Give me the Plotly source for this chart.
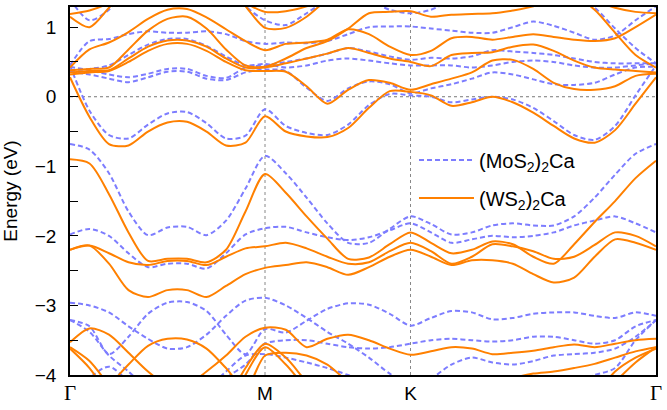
import numpy as np
import plotly.graph_objects as go

# ---------------- k-path ----------------
K_LABELS = ["<span style='font-family:Liberation Serif;font-size:21px'>Γ</span>", "M", "K",
            "<span style='font-family:Liberation Serif;font-size:21px'>Γ</span>"]
K_TICKS = [0.0, 1.97, 3.44, 5.92]
SEG_N = [11, 8, 13]
k = np.concatenate([
    np.linspace(K_TICKS[0], K_TICKS[1], SEG_N[0]),
    np.linspace(K_TICKS[1], K_TICKS[2], SEG_N[1])[1:],
    np.linspace(K_TICKS[2], K_TICKS[3], SEG_N[2])[1:],
])

# ---------------- (WS2)2Ca bands (eV) ----------------
WS_A = [0.28, -0.29, -0.68, -0.70, -0.50, -0.37, -0.36, -0.50, -0.70, -0.66, -0.28,
        -0.50, -0.57, -0.58, -0.45, -0.16, 0.08, 0.07,
        0.02, -0.13, -0.08, 0.00, -0.08, -0.23, -0.42, -0.60, -0.66, -0.48, -0.10, 0.28]
WS_B = [0.32, 0.35, 0.37, 0.50, 0.66, 0.76, 0.76, 0.66, 0.50, 0.38, 0.37,
        0.36, 0.15, -0.10, 0.10, 0.24, 0.20, 0.10,
        0.18, 0.26, 0.35, 0.52, 0.53, 0.40, 0.20, 0.11, 0.10, 0.15, 0.30, 0.33]
WS_C = [0.35, 0.37, 0.38, 0.55, 0.72, 0.81, 0.81, 0.72, 0.55, 0.42, 0.42,
        0.48, 0.55, 0.62, 0.70, 0.63, 0.55, 0.50,
        0.44, 0.60, 0.63, 0.64, 0.72, 0.75, 0.66, 0.52, 0.42, 0.39, 0.37, 0.35]
WS_D = [0.42, 0.68, 0.78, 0.93, 1.12, 1.25, 1.26, 1.14, 0.97, 0.80, 0.67,
        0.76, 0.78, 0.82, 0.97, 0.90, 0.72, 0.60,
        0.66, 0.84, 0.86, 0.82, 0.86, 0.90, 0.86, 0.82, 0.80, 0.84, 1.00, 1.18]
WS_E = [0.38, 0.40, 0.42, 0.68, 0.95, 1.12, 1.15, 0.98, 0.68, 0.45, 0.43,
        0.55, 0.70, 0.80, 0.98, 1.20, 1.22, 1.23,
        1.15, 1.18, 1.19, 1.20, 1.24, 1.30, 1.42, 1.45, 1.25, 0.92, 0.60, 0.42]
WS_F = [1.15, 1.00, 1.28, 1.60, 1.90, 2.00, 2.00, 1.90, 1.60, 1.30, 0.99,
        0.99, 1.15, 1.40, 1.60, 1.70, 1.75, 1.80,
        1.80, 1.80, 1.80, 1.80, 1.75, 1.70, 1.60, 1.50, 1.38, 1.28, 1.22, 1.20]
WS_G = [1.19, 1.24, 1.35, 1.55, 1.75, 1.85, 1.85, 1.75, 1.55, 1.35, 1.22,
        1.23, 1.30, 1.45, 1.55, 1.60, 1.60, 1.60,
        1.60, 1.60, 1.60, 1.60, 1.60, 1.60, 1.60, 1.60, 1.60, 1.60, 1.60, 1.60]
WS_H = [-0.90, -0.96, -1.40, -1.95, -2.36, -2.33, -2.33, -2.38, -2.20, -1.65, -1.11,
        -1.38, -1.72, -2.04, -2.33, -2.31, -2.12, -1.95,
        -2.10, -2.25, -2.20, -2.08, -2.12, -2.30, -2.40, -2.12, -1.80, -1.50, -1.17, -0.92]
WS_I = [-2.20, -2.14, -2.25, -2.38, -2.42, -2.36, -2.36, -2.42, -2.30, -2.18, -2.15,
        -2.10, -2.18, -2.30, -2.40, -2.38, -2.22, -2.10,
        -2.22, -2.40, -2.30, -2.12, -2.15, -2.22, -2.33, -2.30, -2.13, -1.95, -2.00, -2.15]
WS_J = [-2.20, -2.14, -2.40, -2.78, -2.88, -2.78, -2.78, -2.88, -2.72, -2.55, -2.46,
        -2.42, -2.38, -2.45, -2.56, -2.45, -2.30, -2.20,
        -2.30, -2.42, -2.35, -2.35, -2.40, -2.55, -2.67, -2.60, -2.30, -2.05, -2.10, -2.20]
WS_K = [-3.53, -3.33, -3.42, -3.68, -3.95, -4.15, -4.15, -3.95, -3.72, -3.45, -3.32,
        -3.35, -3.60, -3.48, -3.42, -3.50, -3.62, -3.71,
        -3.66, -3.60, -3.62, -3.70, -3.68, -3.65, -3.60, -3.56, -3.60, -3.55, -3.50, -3.48]
WS_L = [-4.60, -4.40, -4.15, -3.85, -3.58, -3.48, -3.49, -3.62, -3.90, -4.20, -3.72,
        -3.68, -3.72, -3.85, -4.10, -4.30, -4.40, -4.50,
        -4.50, -4.50, -4.40, -4.20, -4.05, -3.98, -3.95, -3.90, -3.84, -3.75, -3.66, -3.60]
WS_M = [-3.60, -3.80, -4.15, -4.50, -4.80, -4.90, -4.90, -4.80, -4.40, -3.90, -3.55,
        -3.75, -4.10, -4.40, -4.60, -4.70, -4.80, -4.80,
        -4.80, -4.80, -4.80, -4.80, -4.80, -4.80, -4.70, -4.60, -4.40, -4.10, -3.82, -3.60]
WS_N = [-3.62, -3.90, -4.30, -4.70, -4.90, -5.00, -5.00, -4.90, -4.60, -4.00, -3.60,
        -3.85, -4.20, -4.50, -4.70, -4.80, -4.80, -4.80,
        -4.80, -4.80, -4.80, -4.80, -4.80, -4.80, -4.70, -4.60, -4.30, -3.95, -3.75, -3.62]

# ---------------- (MoS2)2Ca bands (eV) ----------------
MO_A = [0.45, -0.20, -0.55, -0.60, -0.40, -0.24, -0.22, -0.38, -0.60, -0.56, -0.18,
        -0.42, -0.52, -0.55, -0.40, -0.12, 0.04, 0.02,
        0.00, -0.08, -0.04, 0.00, -0.04, -0.16, -0.35, -0.55, -0.62, -0.42, 0.02, 0.45]
MO_B = [0.36, 0.32, 0.26, 0.21, 0.28, 0.36, 0.36, 0.26, 0.24, 0.35, 0.39,
        0.37, 0.13, -0.06, 0.12, 0.22, 0.18, 0.05,
        0.12, 0.18, 0.26, 0.35, 0.32, 0.25, 0.18, 0.17, 0.20, 0.32, 0.42, 0.43]
MO_C = [0.43, 0.38, 0.32, 0.28, 0.33, 0.40, 0.40, 0.30, 0.27, 0.42, 0.45,
        0.50, 0.55, 0.62, 0.70, 0.65, 0.58, 0.53,
        0.56, 0.55, 0.58, 0.67, 0.65, 0.63, 0.60, 0.55, 0.50, 0.48, 0.48, 0.48]
MO_D = [0.38, 0.40, 0.45, 0.60, 0.75, 0.83, 0.83, 0.73, 0.58, 0.45, 0.47,
        0.42, 0.45, 0.52, 0.55, 0.52, 0.48, 0.45,
        0.45, 0.45, 0.42, 0.45, 0.50, 0.52, 0.50, 0.45, 0.42, 0.42, 0.45, 0.48]
MO_E = [0.45, 0.80, 0.83, 0.90, 0.94, 0.92, 0.92, 0.94, 0.90, 0.80, 0.76,
        0.78, 0.77, 0.80, 0.90, 1.00, 1.01, 1.01,
        0.98, 0.95, 0.92, 0.92, 1.00, 1.08, 1.02, 0.92, 0.82, 0.88, 1.10, 1.30]
MO_F = [1.40, 1.10, 1.25, 1.60, 1.90, 2.00, 2.00, 1.90, 1.60, 1.30, 1.10,
        1.03, 1.20, 1.40, 1.60, 1.40, 1.25, 1.20,
        1.25, 1.40, 1.60, 1.80, 1.80, 1.75, 1.60, 1.45, 1.28, 0.98, 0.70, 0.48]
MO_G = [-0.68, -0.76, -1.10, -1.65, -1.99, -1.88, -1.87, -1.99, -1.78, -1.32, -0.85,
        -1.10, -1.45, -1.82, -2.10, -2.10, -1.90, -1.72,
        -1.83, -1.98, -1.95, -1.85, -1.82, -1.85, -1.85, -1.72, -1.45, -1.12, -0.82, -0.68]
MO_H = [-1.98, -1.90, -2.00, -2.25, -2.45, -2.40, -2.40, -2.47, -2.25, -1.98, -1.89,
        -1.87, -1.95, -2.02, -2.06, -2.02, -1.92, -1.82,
        -1.95, -2.10, -2.05, -2.00, -2.02, -2.00, -1.95, -1.85, -1.78, -1.72, -1.82, -1.95]
MO_I = [-3.21, -3.30, -3.70, -3.45, -3.12, -2.96, -2.95, -3.08, -3.42, -3.70, -3.34,
        -3.39, -3.22, -3.05, -2.97, -2.99, -3.12, -3.29,
        -3.18, -3.08, -3.10, -3.20, -3.18, -3.12, -3.10, -3.10, -3.15, -3.18, -3.10, -3.15]
MO_J = [-2.96, -3.00, -3.10, -3.30, -3.48, -3.62, -3.60, -3.42, -3.15, -2.93, -2.89,
        -3.00, -3.18, -3.38, -3.55, -3.75, -3.98, -4.15,
        -4.05, -3.85, -3.75, -3.82, -3.85, -3.80, -3.72, -3.70, -3.68, -3.62, -3.45, -3.21]
MO_K = [-3.21, -3.38, -3.72, -3.95, -4.20, -4.30, -4.30, -4.20, -3.95, -3.72, -3.70,
        -3.75, -3.82, -3.90, -4.00, -4.10, -4.20, -4.30,
        -4.30, -4.30, -4.25, -4.20, -4.20, -4.20, -4.15, -4.10, -4.00, -3.90, -3.50, -3.21]
MO_L = [-4.50, -4.05, -3.88, -4.10, -4.40, -4.50, -4.50, -4.40, -4.05, -3.85, -3.55,
        -3.50, -3.50, -3.55, -3.60, -3.62, -3.60, -3.55,
        -3.50, -3.48, -3.50, -3.52, -3.50, -3.45, -3.45, -3.50, -3.55, -3.50, -3.30, -3.21]

WS_BANDS = [WS_A, WS_B, WS_C, WS_D, WS_E, WS_F, WS_G, WS_H, WS_I, WS_J, WS_K, WS_L, WS_M, WS_N]
MO_BANDS = [MO_A, MO_B, MO_C, MO_D, MO_E, MO_F, MO_G, MO_H, MO_I, MO_J, MO_K, MO_L]

SERIES = ["(MoS<sub>2</sub>)<sub>2</sub>Ca", "(WS<sub>2</sub>)<sub>2</sub>Ca"]
Y_TICKS = [-4, -3, -2, -1, 0, 1]
BLUE = "#7d7dff"
ORANGE = "#ff8000"


def join(bands):
    xs, ys = [], []
    for b in bands:
        xs += list(k) + [None]
        ys += list(b) + [None]
    return xs, ys


fig = go.Figure()
x, y = join(MO_BANDS)
fig.add_trace(go.Scatter(x=x, y=y, mode="lines", name=SERIES[0], legendgroup="a",
                         line=dict(color=BLUE, width=2, dash="5px,3px", shape="spline", smoothing=0.8)))
x, y = join(WS_BANDS)
fig.add_trace(go.Scatter(x=x, y=y, mode="lines", name=SERIES[1], legendgroup="b",
                         line=dict(color=ORANGE, width=2, shape="spline", smoothing=0.8)))

for kv in K_TICKS[1:3]:
    fig.add_vline(x=kv, line=dict(color="#888888", width=1, dash="dot"), layer="below")
fig.add_hline(y=0, line=dict(color="#777777", width=1, dash="dot"), layer="below")

fig.update_layout(
    width=667, height=410,
    margin=dict(l=70, r=5, t=5, b=32),
    plot_bgcolor="white", paper_bgcolor="white",
    font=dict(family="Liberation Sans, Arial, sans-serif", size=19, color="black"),
    showlegend=True,
    legend=dict(x=0.587, y=0.637, xanchor="left", yanchor="top", bgcolor="rgba(0,0,0,0)",
                font=dict(size=20), itemwidth=55, tracegroupgap=9),
    xaxis=dict(range=[K_TICKS[0], K_TICKS[-1]], tickvals=K_TICKS, ticktext=K_LABELS,
               showgrid=False, zeroline=False, showline=True, linecolor="black",
               linewidth=1.5, mirror=True, ticks="", tickfont=dict(size=19)),
    yaxis=dict(range=[-4, 1.29], tickvals=Y_TICKS,
               showgrid=False, zeroline=False, showline=True, linecolor="black",
               linewidth=1.5, mirror=True, ticks="inside", ticklen=8, tickwidth=1.2,
               tickcolor="black", ticklabelstandoff=8,
               minor=dict(dtick=0.5, ticks="inside", ticklen=8, tickwidth=1.2, tickcolor="black"),
               title=dict(text="Energy (eV)", font=dict(size=19), standoff=12)),
)

fig.write_html("out.html")
